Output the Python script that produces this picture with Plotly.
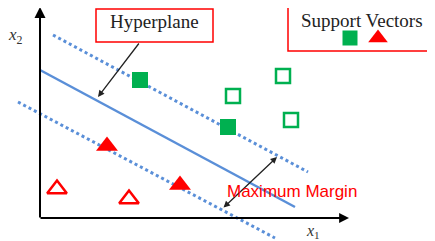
import plotly.graph_objects as go

# Data in chart coordinates (origin at axis intersection)
sv_square_x = [100, 188]
sv_square_y = [138, 91]
open_square_x = [243, 193, 251]
open_square_y = [142, 122, 98]
sv_tri_x = [67, 140]
sv_tri_y = [72, 33]
open_tri_x = [17, 89]
open_tri_y = [29, 19]

hyper_x = [0, 255]
hyper_y = [148, 11]
upper_x = [13, 268]
upper_y = [183, 46]
lower_x = [-22, 235]
lower_y = [116, -20]

legend_sq = ([310], [180])
legend_tri = ([338], [180])

GREEN = "#00b050"
RED = "#ff0000"
BLUE = "#5a8fd8"

fig = go.Figure()
fig.add_trace(go.Scatter(x=upper_x, y=upper_y, mode="lines",
                         line=dict(color=BLUE, width=3, dash="dot")))
fig.add_trace(go.Scatter(x=lower_x, y=lower_y, mode="lines",
                         line=dict(color=BLUE, width=3, dash="dot")))
fig.add_trace(go.Scatter(x=hyper_x, y=hyper_y, mode="lines",
                         line=dict(color=BLUE, width=2.5)))
fig.add_trace(go.Scatter(x=open_square_x, y=open_square_y, mode="markers",
                         marker=dict(symbol="square-open", size=14, color=GREEN,
                                     line=dict(width=2.5, color=GREEN))))
fig.add_trace(go.Scatter(x=sv_square_x, y=sv_square_y, mode="markers",
                         marker=dict(symbol="square", size=16, color=GREEN)))
fig.add_trace(go.Scatter(x=open_tri_x, y=open_tri_y, mode="markers",
                         marker=dict(symbol="triangle-up-open", size=17, color=RED,
                                     line=dict(width=2.5, color=RED))))
fig.add_trace(go.Scatter(x=sv_tri_x, y=sv_tri_y, mode="markers",
                         marker=dict(symbol="triangle-up", size=19, color=RED)))
fig.add_trace(go.Scatter(x=legend_sq[0], y=legend_sq[1], mode="markers",
                         marker=dict(symbol="square", size=15, color=GREEN)))
fig.add_trace(go.Scatter(x=legend_tri[0], y=legend_tri[1], mode="markers",
                         marker=dict(symbol="triangle-up", size=17, color=RED)))

# boxes
fig.add_shape(type="rect", x0=56, x1=173, y0=176, y1=209,
              line=dict(color=RED, width=1.5), fillcolor="white", layer="below")
fig.add_shape(type="rect", x0=248, x1=410, y0=167, y1=211,
              line=dict(color=RED, width=1.5), fillcolor="white", layer="below")

ann = []
# axes arrows
ann.append(dict(x=0, y=211, ax=0, ay=-1, xref="x", yref="y", axref="x", ayref="y",
                text="", showarrow=True, arrowhead=2, arrowsize=1.1, arrowwidth=2,
                arrowcolor="black", standoff=0))
ann.append(dict(x=309, y=0, ax=-1, ay=0, xref="x", yref="y", axref="x", ayref="y",
                text="", showarrow=True, arrowhead=2, arrowsize=1.1, arrowwidth=1.8,
                arrowcolor="black", standoff=0))
# hyperplane pointer
ann.append(dict(x=58, y=121, ax=100, ay=176, xref="x", yref="y", axref="x", ayref="y",
                text="", showarrow=True, arrowhead=2, arrowsize=1, arrowwidth=1.3,
                arrowcolor="#222", standoff=0))
# margin double arrow
ann.append(dict(x=237, y=61, ax=182, ay=9, xref="x", yref="y", axref="x", ayref="y",
                text="", showarrow=True, arrowhead=2, startarrowhead=2,
                arrowside="end+start", arrowsize=1, startarrowsize=1, arrowwidth=1.3,
                arrowcolor="#222", standoff=0, startstandoff=0))
# texts
ann.append(dict(x=114, y=197, xref="x", yref="y", text="Hyperplane", showarrow=False,
                font=dict(family="Liberation Serif", size=19, color="#222")))
ann.append(dict(x=322, y=198, xref="x", yref="y", text="Support Vectors", showarrow=False,
                font=dict(family="Liberation Serif", size=19, color="#222")))
ann.append(dict(x=252, y=27, xref="x", yref="y", text="Maximum Margin", showarrow=False,
                font=dict(family="Liberation Sans", size=17, color=RED)))
ann.append(dict(x=-25, y=182, xref="x", yref="y", text="<i>x</i><sub>2</sub>", showarrow=False,
                font=dict(family="Liberation Serif", size=17, color="#333")))
ann.append(dict(x=273, y=-13, xref="x", yref="y", text="<i>x</i><sub>1</sub>", showarrow=False,
                font=dict(family="Liberation Serif", size=16, color="#333")))

# The page body adds an 8px offset; ranges compensate so that data sit where the reference shows them.
fig.update_layout(
    width=435, height=241, margin=dict(l=0, r=0, t=0, b=0),
    paper_bgcolor="white", plot_bgcolor="white", showlegend=False,
    xaxis=dict(range=[-32, 403], visible=False, fixedrange=True),
    yaxis=dict(range=[-31, 210], visible=False, fixedrange=True),
    annotations=ann,
)
fig.write_html("out.html")
